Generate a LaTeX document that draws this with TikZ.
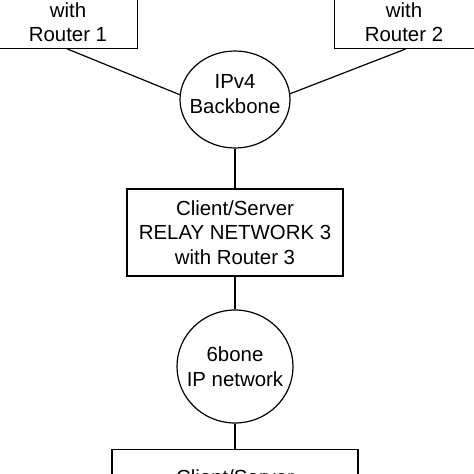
\documentclass[tikz,border=0pt]{standalone}
\usepackage{fontspec}
\setmainfont{Liberation Sans}
\usetikzlibrary{shapes.geometric}
\begin{document}
\begin{tikzpicture}[x=1pt,y=-1pt,line width=1.2pt,
  box/.style={draw,rectangle,inner sep=0pt},
  net/.style={draw,ellipse,inner sep=0pt},
  txt/.style={font=\fontsize{20.4}{24.5}\selectfont,align=center,inner sep=0pt},
  link/.style={draw}]
\useasboundingbox (0,0) rectangle (474,474);
% top boxes (partly outside the picture)
\node[box,minimum width=140,minimum height=100,anchor=south east] (b1) at (138,49) {};
\node[txt] (t1) at (68,22) {with\\Router 1};
\node[box,minimum width=142,minimum height=100,anchor=south west] (b2) at (334,49) {};
\node[txt] (t2) at (404,22) {with\\Router 2};
% IPv4 backbone
\node[net,minimum width=110,minimum height=97] (ipv4) at (235,99.5) {};
\node[txt] (t3) at (235,94.2) {IPv4\\Backbone};
% relay network 3
\node[box,txt,minimum width=216,minimum height=87] (b3) at (235,232.5) {Client/Server\\RELAY NETWORK 3\\with Router 3};
% 6bone
\node[net,minimum width=116,minimum height=113] (bone) at (235,366.5) {};
\node[txt] (t5) at (235,366.5) {6bone\\IP network};
% bottom box
\node[box,minimum width=246,minimum height=60,anchor=north] (b4) at (235,449) {};
\node[txt,anchor=base] (t4) at (235,484.6) {Client/Server};
% connectors
\draw[link] (b1.south) -- (ipv4.175);
\draw[link] (b2.south) -- (ipv4.6);
\draw[link] (ipv4.south) -- (b3.north);
\draw[link] (b3.south) -- (bone.north);
\draw[link] (bone.south) -- (b4.north);
\end{tikzpicture}
\end{document}
